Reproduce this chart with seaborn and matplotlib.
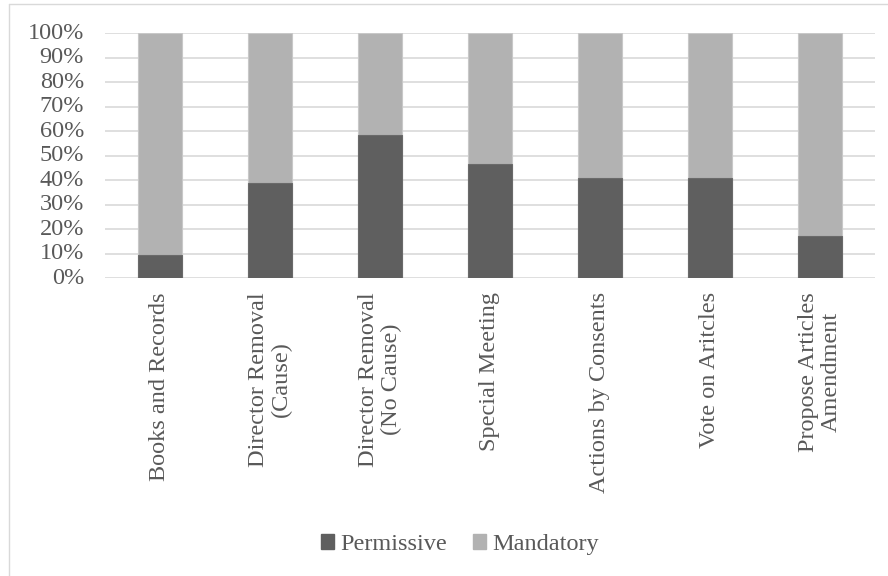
import matplotlib
matplotlib.use('Agg')
import matplotlib.pyplot as plt
import seaborn as sns
import pandas as pd
from matplotlib.ticker import PercentFormatter
from matplotlib.patches import Patch
from matplotlib.lines import Line2D

# data
categories = ['Books and Records', 'Director Removal\n(Cause)', 'Director Removal\n(No Cause)',
              'Special Meeting', 'Actions by Consents', 'Vote on Aritcles',
              'Propose Articles\nAmendment']
permissive = [9.5, 39.0, 58.5, 46.7, 40.9, 40.9, 17.3]
mandatory = [90.5, 61.0, 41.5, 53.3, 59.1, 59.1, 82.7]

df = pd.DataFrame({'category': categories, 'Permissive': permissive, 'Mandatory': mandatory})
df['total'] = df['Permissive'] + df['Mandatory']

sns.set_style('white')
plt.rcParams['font.family'] = ['Liberation Serif', 'DejaVu Serif']

dark = '#5f5f5f'
light = '#b2b2b2'
text_col = '#595959'
fs = 17.5

fig = plt.figure(figsize=(8.88, 5.76), dpi=100)
ax = fig.add_axes([0.118, 0.517, 0.867, 0.425])

# stacked: full bar in light grey, permissive on top in dark grey
sns.barplot(data=df, x='category', y='total', color=light, width=0.4, saturation=1, ax=ax,
            zorder=2, edgecolor='#c8c8c8', linewidth=0.8)
sns.barplot(data=df, x='category', y='Permissive', color=dark, width=0.4, saturation=1, ax=ax,
            zorder=3, edgecolor='#6a6a6a', linewidth=0.8)

ax.set_ylim(0, 100)
ax.set_xlim(-0.5, len(categories) - 0.5)
ax.set_yticks(range(0, 101, 10))
ax.yaxis.set_major_formatter(PercentFormatter(decimals=0))
ax.grid(axis='y', color='#d9d9d9', linewidth=1.2, zorder=0)
ax.set_axisbelow(True)
for s in ax.spines.values():
    s.set_visible(False)
ax.set_xlabel('')
ax.set_ylabel('')
ax.tick_params(axis='y', labelsize=fs, labelcolor=text_col, length=0, pad=15)
ax.tick_params(axis='x', labelsize=fs, labelcolor=text_col, length=0, pad=10)
plt.setp(ax.get_yticklabels(), va='center')
plt.setp(ax.get_xticklabels(), rotation=90, ha='center', va='top', multialignment='center',
         linespacing=1.1)

handles = [Patch(color=dark, label='Permissive'), Patch(color=light, label='Mandatory')]
fig.legend(handles=handles, loc='center', bbox_to_anchor=(0.518, 0.055), ncol=2, frameon=False,
           fontsize=fs, labelcolor=text_col, handlelength=0.55, handleheight=0.55,
           handletextpad=0.25, columnspacing=1.05)

# light outer frame (only top and left edges visible in the crop)
fig.add_artist(Line2D([9 / 888, 9 / 888], [0, 1 - 4 / 576], transform=fig.transFigure,
                      color='#d9d9d9', linewidth=1))
fig.add_artist(Line2D([9 / 888, 1], [1 - 4 / 576, 1 - 4 / 576], transform=fig.transFigure,
                      color='#d9d9d9', linewidth=1))

fig.savefig('out.png', dpi=100)
